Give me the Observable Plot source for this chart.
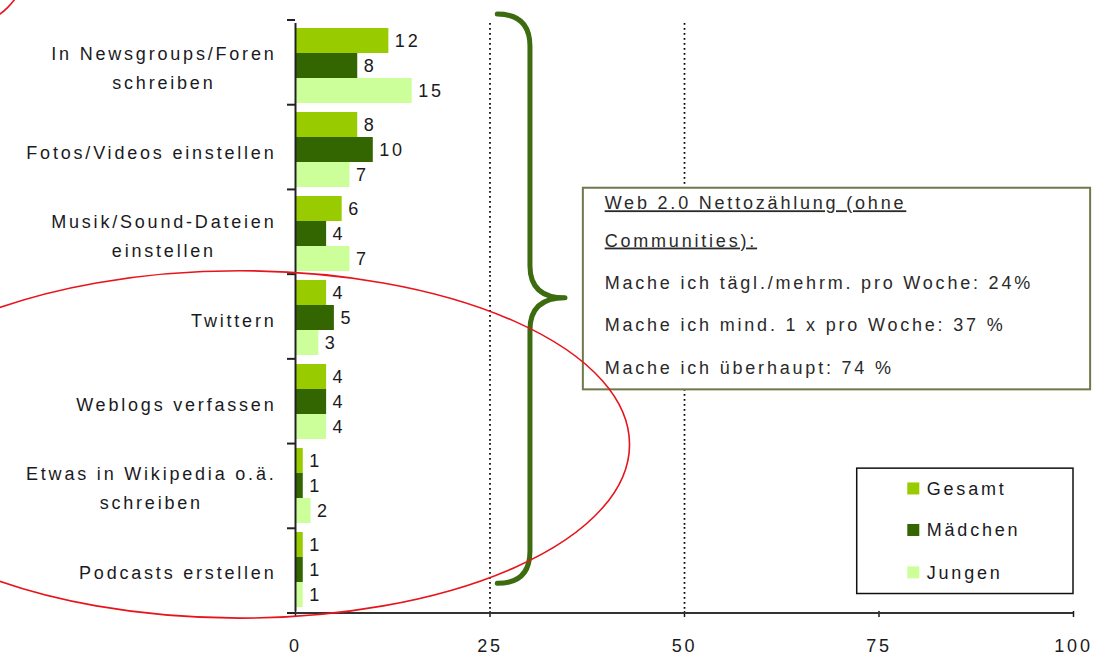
<!DOCTYPE html>
<html>
<head>
<meta charset="utf-8">
<script src="https://cdn.jsdelivr.net/npm/d3@7"></script>
<script src="https://cdn.jsdelivr.net/npm/@observablehq/plot@0.6"></script>
<style>
  html, body { margin: 0; padding: 0; background: #fff; }
</style>
</head>
<body>
<div id="chart"></div>
<script>
// ---------- data ----------
const categories = [
  "In Newsgroups/Foren\nschreiben",
  "Fotos/Videos einstellen",
  "Musik/Sound-Dateien\neinstellen",
  "Twittern",
  "Weblogs verfassen",
  "Etwas in Wikipedia o.ä.\nschreiben",
  "Podcasts erstellen"
];
const seriesNames = ["Gesamt", "Mädchen", "Jungen"];
const gesamtValues   = [12, 8, 6, 4, 4, 1, 1];
const maedchenValues = [8, 10, 4, 5, 4, 1, 1];
const jungenValues   = [15, 7, 7, 3, 4, 2, 1];
const xTickValues = [0, 25, 50, 75, 100];
const gridValues = [25, 50];
const noteLines = [
  "Web 2.0 Nettozählung (ohne",
  "Communities):",
  "Mache ich tägl./mehrm. pro Woche: 24%",
  "Mache ich mind. 1 x pro Woche: 37 %",
  "Mache ich überhaupt: 74 %"
];
const noteUnderlined = [true, true, false, false, false];

// ---------- styles ----------
const seriesColors = ["#99cc00", "#336600", "#ccff99"];
const textColor = "#1a1a22";

const seriesValues = [gesamtValues, maedchenValues, jungenValues];
const table = categories.flatMap((c, i) =>
  seriesNames.map((s, j) => ({category: c, series: s, value: seriesValues[j][i]}))
);

const chart = Plot.plot({
  width: 1102,
  height: 668,
  marginTop: 20,
  marginBottom: 55,
  marginLeft: 295,
  marginRight: 29,
  style: {
    fontFamily: "'Liberation Sans', Arial, sans-serif",
    fontSize: "18px",
    color: textColor,
    letterSpacing: "2.8px",
    background: "#fff"
  },
  x: {domain: [0, 100], label: null},
  y: {domain: seriesNames, paddingInner: 0, paddingOuter: 0.15, axis: null, label: null},
  fy: {domain: categories, padding: 0, label: null},
  color: {domain: seriesNames, range: seriesColors},
  marks: [
    Plot.ruleX(gridValues, {stroke: "#000", strokeWidth: 1.7, strokeDasharray: "1.7,3.3"}),
    Plot.barX(table, {x: "value", y: "series", fy: "category", fill: "series"}),
    Plot.text(table, {
      x: "value", y: "series", fy: "category",
      text: d => String(d.value), textAnchor: "start", dx: 6, fill: textColor
    }),
    Plot.ruleX([0], {stroke: "#222", strokeWidth: 2}),
    Plot.axisX({ticks: xTickValues, tickSize: 6, tickPadding: 22, strokeWidth: 1.5, label: null, tickFormat: d => String(d)}),
    Plot.axisFy({anchor: "left", tickSize: 0, tickPadding: 19, label: null, lineHeight: 1.6})
  ]
});

document.getElementById("chart").append(chart);

// centre the lines of multi-line category labels (Excel style)
d3.select(chart).selectAll('g[aria-label^="fy-axis"] text').each(function () {
  const spans = Array.from(this.querySelectorAll("tspan"));
  if (spans.length < 2) return;
  const w = d3.max(spans, s => s.getComputedTextLength());
  this.setAttribute("text-anchor", "middle");
  spans.forEach(s => s.setAttribute("x", -w / 2));
});

// ---------- annotations, positioned through the chart's own scales ----------
const xs = chart.scale("x");
const X = d3.scaleLinear(xs.domain, xs.range);
const fys = chart.scale("fy");
const rowTop = fys.range[0];
const rowStep = (fys.range[1] - fys.range[0]) / categories.length;
const R = t => rowTop + t * rowStep;           // t in category-row units
const svg = d3.select(chart);
const ann = svg.append("g").attr("aria-label", "annotations").attr("text-anchor", "start");

// axis baseline + category boundary ticks
ann.append("line")
  .attr("x1", X(0)).attr("x2", X(100))
  .attr("y1", R(categories.length)).attr("y2", R(categories.length))
  .attr("stroke", "#333").attr("stroke-width", 2);
ann.selectAll("line.bound").data(d3.range(categories.length + 1)).join("line")
  .attr("class", "bound")
  .attr("x1", X(0) - 8).attr("x2", X(0))
  .attr("y1", d => R(d)).attr("y2", d => R(d))
  .attr("stroke", "#222").attr("stroke-width", 2);

// curly brace
const brace = {x0: 26, x1: 30.2, xTip: 34.7, top: -0.07, tip: 3.28, bottom: 6.65, r: 0.38};
{
  const x0 = X(brace.x0), x1 = X(brace.x1), xt = X(brace.xTip);
  const y0 = R(brace.top), yt = R(brace.tip), y1 = R(brace.bottom), r = brace.r * rowStep;
  const p = d3.path();
  p.moveTo(x0, y0);
  p.quadraticCurveTo(x1, y0, x1, y0 + r);
  p.lineTo(x1, yt - r);
  p.quadraticCurveTo(x1, yt, xt, yt);
  p.quadraticCurveTo(x1, yt, x1, yt + r);
  p.lineTo(x1, y1 - r);
  p.quadraticCurveTo(x1, y1, x0, y1);
  ann.append("path").attr("d", p.toString())
    .attr("fill", "none").attr("stroke", "#3d6b10").attr("stroke-width", 5)
    .attr("stroke-linecap", "round").attr("stroke-linejoin", "round");
}

// note box
const noteBox = {x1: 37.0, x2: 102.2, t1: 1.98, t2: 4.36, textX: 39.8, rows: [2.16, 2.60, 3.10, 3.60, 4.10]};
ann.append("rect")
  .attr("x", X(noteBox.x1)).attr("y", R(noteBox.t1))
  .attr("width", X(noteBox.x2) - X(noteBox.x1)).attr("height", R(noteBox.t2) - R(noteBox.t1))
  .attr("fill", "#fff").attr("stroke", "#6e7a4c").attr("stroke-width", 2);
ann.selectAll("text.note").data(noteLines).join("text")
  .attr("class", "note")
  .attr("x", X(noteBox.textX))
  .attr("y", (d, i) => R(noteBox.rows[i]))
  .attr("dy", "0.35em")
  .attr("fill", "#2a2a2a")
  .style("text-decoration", (d, i) => noteUnderlined[i] ? "underline" : "none")
  .text(d => d);

// legend box
const legendBox = {x1: 72.2, x2: 100, t1: 5.29, t2: 6.77, swatchX: 78.7, textX: 81.2, rows: [5.53, 6.02, 6.52], swatch: 12};
ann.append("rect")
  .attr("x", X(legendBox.x1)).attr("y", R(legendBox.t1))
  .attr("width", X(legendBox.x2) - X(legendBox.x1)).attr("height", R(legendBox.t2) - R(legendBox.t1))
  .attr("fill", "#fff").attr("stroke", "#111").attr("stroke-width", 1.5);
const colorScale = chart.scale("color");
const C = d3.scaleOrdinal(colorScale.domain, colorScale.range);
seriesNames.forEach((s, i) => {
  ann.append("rect")
    .attr("x", X(legendBox.swatchX)).attr("y", R(legendBox.rows[i]) - legendBox.swatch / 2)
    .attr("width", legendBox.swatch).attr("height", legendBox.swatch)
    .attr("fill", C(s));
  ann.append("text")
    .attr("x", X(legendBox.textX)).attr("y", R(legendBox.rows[i]))
    .attr("dy", "0.35em").attr("fill", textColor).text(s);
});

// red hand-drawn ellipses
const ellipses = [
  {cx: -7.1, cy: 5.01, rx: 50.1, ry: 2.05},
  {cx: -43.0, cy: -0.708, rx: 8.6, ry: 0.79}
];
ellipses.forEach(e => {
  ann.append("ellipse")
    .attr("cx", X(e.cx)).attr("cy", R(e.cy))
    .attr("rx", X(e.rx) - X(0)).attr("ry", e.ry * rowStep)
    .attr("fill", "none").attr("stroke", "#e8141c").attr("stroke-width", 1.6);
});
</script>
</body>
</html>
